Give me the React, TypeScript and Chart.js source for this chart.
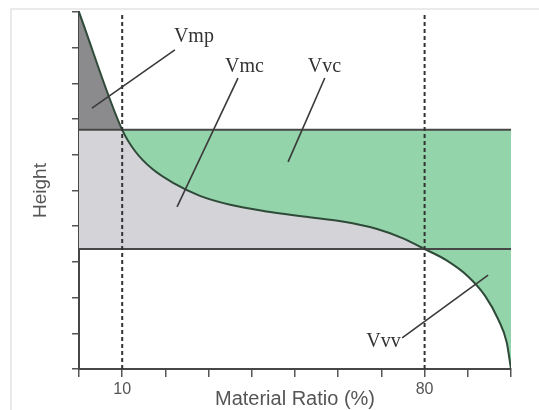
import React, { useEffect, useRef } from "react";
import { Chart, registerables } from "chart.js";

Chart.register(...registerables);

// Bearing (Abbott-Firestone) curve: material ratio (%) vs height
const profileX = [0, 10, 13, 17, 22, 28, 35, 43, 52, 61, 69, 75, 80, 85, 90, 94, 97, 99, 100];
const profileY = [10, 6.7, 6.1, 5.6, 5.2, 4.85, 4.6, 4.42, 4.27, 4.13, 3.92, 3.66, 3.36, 3.05, 2.6, 2.05, 1.4, 0.75, 0.0];

const upperLevel = 6.7;
const lowerLevel = 3.36;
const dividerRatios = [10, 80];
const shownTickLabels = [10, 80];

const labelNames = ["Vmp", "Vmc", "Vvc", "Vvv"];
const labelX = [26.6, 38.3, 56.8, 70.5];
const labelY = [9.3, 8.46, 8.46, 0.76];
const leaderStartX = [22.2, 36.8, 56.9, 74.8];
const leaderStartY = [8.94, 8.15, 8.15, 0.87];
const leaderEndX = [3.0, 22.7, 48.4, 94.7];
const leaderEndY = [7.31, 4.54, 5.8, 2.63];

const xTitle = "Material Ratio (%)";
const yTitle = "Height";

export default function App() {
  const canvasRef = useRef<HTMLCanvasElement | null>(null);

  useEffect(() => {
    if (!canvasRef.current) return;
    const profile = profileX.map((x, i) => ({ x, y: profileY[i] }));

    const lineDs = (pts: { x: number; y: number }[], color: string, width: number, dash: number[] = [], order = 1) => ({
      type: "line" as const,
      data: pts,
      borderColor: color,
      borderWidth: width,
      borderDash: dash,
      pointRadius: 0,
      fill: false,
      tension: 0,
      order,
    });

    const datasets: any[] = [
      {
        type: "line",
        data: profile,
        borderWidth: 0,
        borderColor: "rgba(0,0,0,0)",
        pointRadius: 0,
        cubicInterpolationMode: "monotone",
        fill: { value: lowerLevel, above: "#d4d4d8", below: "rgba(0,0,0,0)" },
        order: 5,
      },
      {
        type: "line",
        data: profile,
        borderWidth: 2,
        borderColor: "#2f4a38",
        pointRadius: 0,
        cubicInterpolationMode: "monotone",
        fill: { value: upperLevel, above: "#8b8b8d", below: "#93d4aa" },
        order: 4,
      },
      lineDs([{ x: 0, y: upperLevel }, { x: 100, y: upperLevel }], "#474747", 2, [], 3),
      lineDs([{ x: 0, y: lowerLevel }, { x: 100, y: lowerLevel }], "#474747", 2, [], 3),
      ...dividerRatios.map((r) => lineDs([{ x: r, y: 0 }, { x: r, y: 10 }], "#333333", 2, [4, 3], 2)),
      ...leaderStartX.map((sx, i) =>
        lineDs([{ x: sx, y: leaderStartY[i] }, { x: leaderEndX[i], y: leaderEndY[i] }], "#3a3a3a", 1.6, [], 1)
      ),
    ];

    const labelPlugin = {
      id: "volumeLabels",
      beforeDraw(chart: any) {
        const ctx = chart.ctx;
        ctx.save();
        ctx.strokeStyle = "#e4e4e4";
        ctx.lineWidth = 1.5;
        ctx.beginPath();
        ctx.moveTo(11, chart.height);
        ctx.lineTo(11, 9);
        ctx.lineTo(chart.width, 9);
        ctx.stroke();
        ctx.restore();
      },
      afterDatasetsDraw(chart: any) {
        const ctx = chart.ctx;
        const xs = chart.scales.x;
        const ys = chart.scales.y;
        ctx.save();
        ctx.fillStyle = "#333333";
        ctx.font = "20px 'Liberation Serif', serif";
        ctx.textAlign = "center";
        ctx.textBaseline = "middle";
        labelNames.forEach((t, i) => {
          ctx.fillText(t, xs.getPixelForValue(labelX[i]), ys.getPixelForValue(labelY[i]));
        });
        ctx.restore();
      },
    };

    const chart = new Chart(canvasRef.current, {
      type: "line",
      data: { datasets },
      options: {
        animation: false,
        responsive: false,
        layout: { padding: { left: 0, right: 28, top: 12, bottom: 0 } },
        plugins: { legend: { display: false }, tooltip: { enabled: false } },
        scales: {
          x: {
            type: "linear",
            min: 0,
            max: 100,
            afterFit: (s: any) => {
              s.height = 41;
            },
            border: { display: true, color: "#474747", width: 2 },
            grid: { drawOnChartArea: false, drawTicks: true, tickLength: 8, color: "#555555", lineWidth: 1.5 },
            ticks: {
              stepSize: 10,
              autoSkip: false,
              maxRotation: 0,
              padding: 3,
              color: "#555555",
              font: { family: "'Liberation Sans', Arial, sans-serif", size: 16 },
              callback: (v: any) => (shownTickLabels.includes(Number(v)) ? String(v) : ""),
            },
            title: {
              display: true,
              text: xTitle,
              color: "#555555",
              font: { family: "'Liberation Sans', Arial, sans-serif", size: 20 },
              padding: { top: 0, bottom: -1 },
            },
          },
          y: {
            type: "linear",
            min: 0,
            max: 10,
            afterFit: (s: any) => {
              s.width = 79;
            },
            border: { display: true, color: "#474747", width: 2 },
            grid: { drawOnChartArea: false, drawTicks: true, tickLength: 7, color: "#555555", lineWidth: 1.5 },
            ticks: { stepSize: 1, display: false },
            title: {
              display: true,
              text: yTitle,
              color: "#555555",
              font: { family: "'Liberation Sans', Arial, sans-serif", size: 19 },
              padding: { top: 29, bottom: 0 },
            },
          },
        },
      },
      plugins: [labelPlugin],
    } as any);

    return () => chart.destroy();
  }, []);

  return (
    <div style={{ position: "fixed", left: 0, top: 0, width: 539, height: 410, background: "#ffffff" }}>
      <canvas ref={canvasRef} width={539} height={410} style={{ display: "block" }} />
    </div>
  );
}
